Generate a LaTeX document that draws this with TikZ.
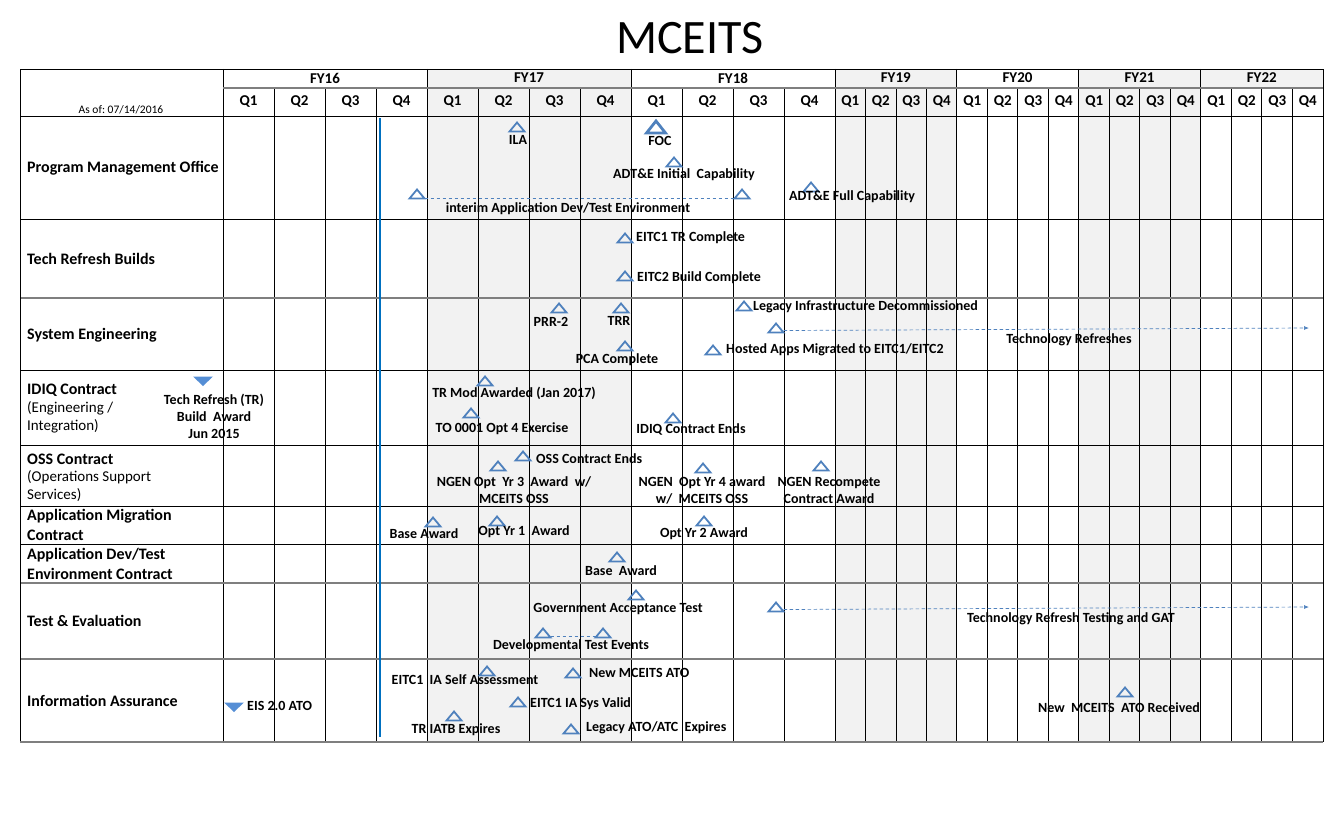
\documentclass[tikz,border=0pt]{standalone}
\usepackage{fontspec}
\setmainfont{Carlito}
\usetikzlibrary{arrows.meta,calc}
\definecolor{msblue}{RGB}{79,129,189}
\definecolor{fillblue}{RGB}{85,142,213}
\definecolor{nowblue}{RGB}{0,112,192}
\definecolor{cellgray}{RGB}{242,242,242}
\definecolor{gridgray}{RGB}{127,127,127}
\tikzset{
  lbl/.style={font=\bfseries\fontsize{14}{17}\selectfont, inner sep=0pt, align=center},
  rowlbl/.style={font=\bfseries\fontsize{16}{18}\selectfont, anchor=west, inner sep=0pt},
  rowsub/.style={font=\fontsize{15}{18}\selectfont, anchor=west, inner sep=0pt},
  hdr/.style={font=\bfseries\fontsize{15}{17}\selectfont, inner sep=0pt},
  tri/.style={draw=msblue, line width=1.8pt, line join=miter},
  bigtri/.style={draw=msblue, line width=2.8pt, line join=miter},
  dtri/.style={fill=fillblue, draw=none},
  span/.style={draw=msblue, line width=0.7pt, dash pattern=on 3.5pt off 2.5pt},
  spanarrow/.style={span, -{Latex[length=5pt,width=4pt]}},
  blackline/.style={draw=black, line width=0.6pt},
  grayline/.style={draw=gridgray, line width=1.4pt},
}
\newcommand\mst[3]{%
  \coordinate (#1) at (#2,#3);
  \coordinate (#1-l) at ($(#1)+(-7.5,4.5)$);
  \coordinate (#1-r) at ($(#1)+(7.5,4.5)$);
  \draw[tri] (#1-l) -- ++(7.5,-9) -- (#1-r) -- cycle;}
\newcommand\dmst[3]{%
  \coordinate (#1) at (#2,#3);
  \fill[dtri] ($(#1)+(-10,-4.5)$) -- ++(20,0) -- ++(-10,9.5) -- cycle;}
\begin{document}
\begin{tikzpicture}[x=1pt,y=-1pt]
\useasboundingbox (0,0) rectangle (1344,816);
% title
\node[font=\fontsize{48}{50}\selectfont, inner sep=0pt] (title) at (690,38) {MCEITS};
% shading
\fill[cellgray] (427,69) rectangle (631,742);
\fill[cellgray] (835,69) rectangle (956.5,742);
\fill[cellgray] (1078.5,69) rectangle (1200.5,742);
\fill[cellgray] (1200.5,69) rectangle (1323,88);
% grid: quarter lines
\foreach \x in {274,325,376,478,529,580,682,733,784,865.5,896,926.5,987,1017.5,1048,1109,1139.5,1170,1231,1261.5,1292}
  \draw[blackline] (\x,88) -- (\x,742);
\foreach \x in {223,427,631,835,956.5,1078.5,1200.5}
  \draw[blackline] (\x,69) -- (\x,742);
% horizontal lines
\draw[grayline] (223,88) -- (1323,88);
\draw[blackline] (20,116) -- (1323,116);
\foreach \y in {219,370,445,506,544}
  \draw[blackline] (20,\y) -- (1323,\y);
\foreach \y in {298,583,659}
  \draw[grayline] (20,\y) -- (1323,\y);
\draw[blackline, line width=0.8pt] (20,742) -- (20,69) -- (1323,69) -- (1323,742);
\draw[grayline] (20,742) -- (1323,742);
% header text
\node[font=\fontsize{11.5}{12}\selectfont, inner sep=0pt] (asof) at (121,110) {As of:\ 07/14/2016};
\node[hdr] (fy16) at (325,78) {FY16};
\node[hdr] (fy17) at (529,78) {FY17};
\node[hdr] (fy18) at (733,78) {FY18};
\node[hdr] (fy19) at (895.75,78) {FY19};
\node[hdr] (fy20) at (1017.5,78) {FY20};
\node[hdr] (fy21) at (1139.5,78) {FY21};
\node[hdr] (fy22) at (1261.75,78) {FY22};
\foreach \i in {0,...,11}{
  \pgfmathtruncatemacro\q{mod(\i,4)+1}
  \node[hdr] (qa\i) at ({223+51*\i+25.5},102) {Q\q};
}
\foreach \i in {0,...,15}{
  \pgfmathtruncatemacro\q{mod(\i,4)+1}
  \node[hdr] (qb\i) at ({835+30.5*\i+15.25},102) {Q\q};
}
% row labels
\node[rowlbl] (r1) at (27,168) {Program Management Office};
\node[rowlbl] (r2) at (27,259) {Tech Refresh Builds};
\node[rowlbl] (r3) at (27,335) {System Engineering};
\node[rowlbl] (r4a) at (27,390) {IDIQ Contract};
\node[rowsub] (r4b) at (27,408) {(Engineering /};
\node[rowsub] (r4c) at (27,426) {Integration)};
\node[rowlbl] (r5a) at (27,459) {OSS Contract};
\node[rowsub] (r5b) at (27,477) {(Operations Support};
\node[rowsub] (r5c) at (27,495) {Services)};
\node[rowlbl] (r6a) at (27,516) {Application Migration};
\node[rowlbl] (r6b) at (27,535) {Contract};
\node[rowlbl] (r7a) at (27,555) {Application Dev/Test};
\node[rowlbl] (r7b) at (27,574) {Environment Contract};
\node[rowlbl] (r8) at (27,621) {Test \& Evaluation};
\node[rowlbl] (r9) at (27,701) {Information Assurance};
% today line
\draw[nowblue, line width=2.6pt] (380,118) -- (380,737);
% ---- Program Management Office
\mst{ila}{517}{127}
\node[lbl] (ilat) at (518,140) {ILA};
\coordinate (foc) at (656,127);
\draw[bigtri] ($(foc)+(-9.5,6)$) -- ++(9.5,-12) -- ++(9.5,12) -- cycle;
\node[lbl] (foct) at (660,141) {FOC};
\mst{adtei}{674}{162}
\node[lbl] (adteit) at (684,175) {ADT\&E Initial\ \ Capability};
\mst{int1}{417}{194}
\mst{int2}{742}{194}
\draw[span] (int1-r) -- (int2-l);
\node[lbl] (intt) at (568,209) {interim Application Dev/Test Environment};
\mst{adtef}{811}{187}
\node[lbl] (adteft) at (852,197) {ADT\&E Full Capability};
% ---- Tech Refresh Builds
\mst{eitc1}{625}{238}
\node[lbl, anchor=west] (eitc1t) at (636,238) {EITC1 TR Complete};
\mst{eitc2}{625}{276}
\node[lbl, anchor=west] (eitc2t) at (637,278) {EITC2 Build Complete};
% ---- System Engineering
\mst{prr}{559}{308}
\node[lbl] (prrt) at (551,322) {PRR-2};
\mst{trr}{621}{308}
\node[lbl] (trrt) at (619,321) {TRR};
\mst{legacy}{744}{306}
\node[lbl, anchor=west] (legacyt) at (753,307) {Legacy Infrastructure Decommissioned};
\mst{techr}{776}{328}
\coordinate (techrend) at (1309,328);
\draw[spanarrow] ($(techr-r)+(0,-2)$) -- (techrend);
\node[lbl] (techrt) at (1069,340) {Technology Refreshes};
\mst{pca}{625}{346}
\node[lbl] (pcat) at (617,360) {PCA Complete};
\mst{hosted}{713}{350}
\node[lbl, anchor=west] (hostedt) at (726,350) {Hosted Apps Migrated to EITC1/EITC2};
% ---- IDIQ
\dmst{trbuild}{203}{381}
\node[lbl] (trbuildt) at (214,416) {Tech Refresh (TR)\\Build\ \ Award\\Jun 2015};
\mst{trmod}{485}{381}
\node[lbl] (trmodt) at (514,393) {TR Mod Awarded (Jan 2017)};
\mst{to0001}{471}{413}
\node[lbl] (to0001t) at (502,429) {TO 0001 Opt 4 Exercise};
\mst{idiqend}{673}{418}
\node[lbl] (idiqendt) at (691,429) {IDIQ Contract Ends};
% ---- OSS
\mst{ossend}{523}{456}
\node[lbl, anchor=west] (ossendt) at (536,459) {OSS Contract Ends};
\mst{ngen3}{498}{466}
\node[lbl] (ngen3t) at (514,490) {NGEN Opt\ \ Yr 3\ \ Award\ \ w/\\MCEITS OSS};
\mst{ngen4}{703}{468}
\node[lbl] (ngen4t) at (702,490) {NGEN\ \ Opt Yr 4 award\\w/\ \ MCEITS OSS};
\mst{ngenr}{821}{466}
\node[lbl] (ngenrt) at (829,490) {NGEN Recompete\\Contract Award};
% ---- Application Migration
\mst{ambase}{433}{522}
\node[lbl] (ambaset) at (424,534) {Base Award};
\mst{amopt1}{497}{521}
\node[lbl] (amopt1t) at (524,532) {Opt Yr 1\ \ Award};
\mst{amopt2}{704}{521}
\node[lbl] (amopt2t) at (704,534) {Opt Yr 2 Award};
% ---- Application Dev/Test
\mst{adbase}{617}{557}
\node[lbl] (adbaset) at (621,571) {Base\ \ Award};
% ---- Test & Evaluation
\mst{gat}{636}{595}
\node[lbl] (gatt) at (618,609) {Government Acceptance Test};
\mst{trt}{776}{607}
\coordinate (trtend) at (1309,607);
\draw[spanarrow] ($(trt-r)+(0,-2)$) -- (trtend);
\node[lbl] (trtt) at (1071,619) {Technology Refresh Testing and GAT};
\mst{dev1}{543}{633}
\mst{dev2}{603}{633}
\draw[span] ($(dev1-r)+(0,-1)$) -- ($(dev2-l)+(0,-1)$);
\node[lbl] (devt) at (571,646) {Developmental Test Events};
% ---- Information Assurance
\mst{selfa}{487}{671}
\node[lbl] (selfat) at (465,680) {EITC1\ \ IA Self Assessment};
\mst{newato}{573}{673}
\node[lbl, anchor=west] (newatot) at (589,673) {New MCEITS ATO};
\mst{sysval}{518}{702}
\node[lbl, anchor=west] (sysvalt) at (530,704) {EITC1 IA Sys Valid};
\mst{iatb}{454}{716}
\node[lbl] (iatbt) at (456,730) {TR IATB Expires};
\mst{legato}{571}{729}
\node[lbl, anchor=west] (legatot) at (586,728) {Legacy ATO/ATC\ \ Expires};
\dmst{eis}{234}{707}
\node[lbl, anchor=west] (eist) at (247,706) {EIS 2.0 ATO};
\mst{newrec}{1125}{692}
\node[lbl] (newrect) at (1119,708) {New\ \ MCEITS\ \ ATO Received};
\end{tikzpicture}
\end{document}
